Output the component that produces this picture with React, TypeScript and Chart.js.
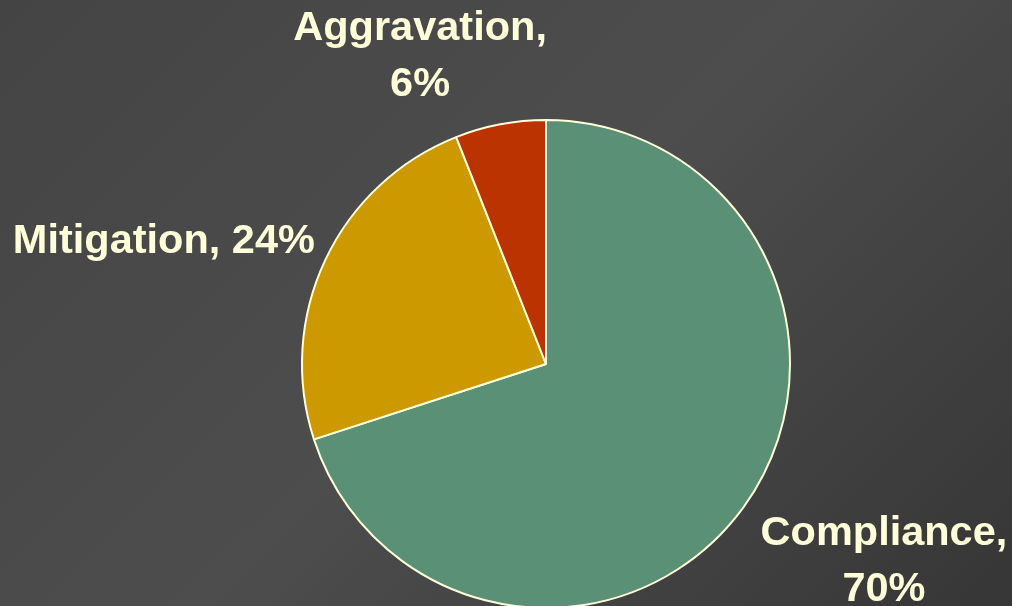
import React, { useEffect, useRef } from "react";
import { Chart, registerables } from "chart.js";

Chart.register(...registerables);

const categories = ["Compliance", "Mitigation", "Aggravation"];
const shares = [70, 24, 6];
const sliceColors = ["#5a9076", "#cc9900", "#bb3300"];
// label anchor (in units of the pie radius, relative to the pie centre) and line breaks
const labelLines = [["Compliance,", "70%"], ["Mitigation, 24%"], ["Aggravation,", "6%"]];
const labelAnchors = [
  [1.385, 0.74],
  [-1.566, -0.455],
  [-0.516, -1.328],
];

const labelPlugin = {
  id: "sliceLabels",
  afterDatasetsDraw(chart: any) {
    const ctx = chart.ctx;
    const meta = chart.getDatasetMeta(0);
    ctx.save();
    ctx.font = "bold 41.5px 'Liberation Sans', Arial, sans-serif";
    ctx.fillStyle = "#ffffd9";
    ctx.textAlign = "center";
    ctx.textBaseline = "alphabetic";
    meta.data.forEach((arc: any, i: number) => {
      const r = arc.outerRadius;
      const cx = arc.x + labelAnchors[i][0] * r;
      const cy = arc.y + labelAnchors[i][1] * r;
      labelLines[i].forEach((line, j) => {
        ctx.fillText(line, cx, cy + j * 56);
      });
    });
    ctx.restore();
  },
};

export default function App() {
  const ref = useRef<HTMLCanvasElement>(null);
  useEffect(() => {
    if (!ref.current) return;
    const chart = new Chart(ref.current, {
      type: "pie",
      data: {
        labels: categories,
        datasets: [
          {
            data: shares,
            backgroundColor: sliceColors,
            borderColor: "#ffffd9",
            borderWidth: 2,
          },
        ],
      },
      options: {
        animation: false,
        responsive: false,
        maintainAspectRatio: false,
        layout: { padding: { left: 301, right: 221, top: 118, bottom: 2 } },
        plugins: {
          legend: { display: false },
          tooltip: { enabled: false },
        },
      },
      plugins: [labelPlugin],
    });
    return () => chart.destroy();
  }, []);
  return (
    <div
      style={{
        position: "fixed",
        left: 0,
        top: 0,
        width: 1012,
        height: 606,
        overflow: "hidden",
        background: "linear-gradient(135deg, #444444 0%, #4d4d4d 50%, #363636 100%)",
      }}
    >
      <canvas ref={ref} width={1012} height={612} style={{ display: "block" }} />
    </div>
  );
}
